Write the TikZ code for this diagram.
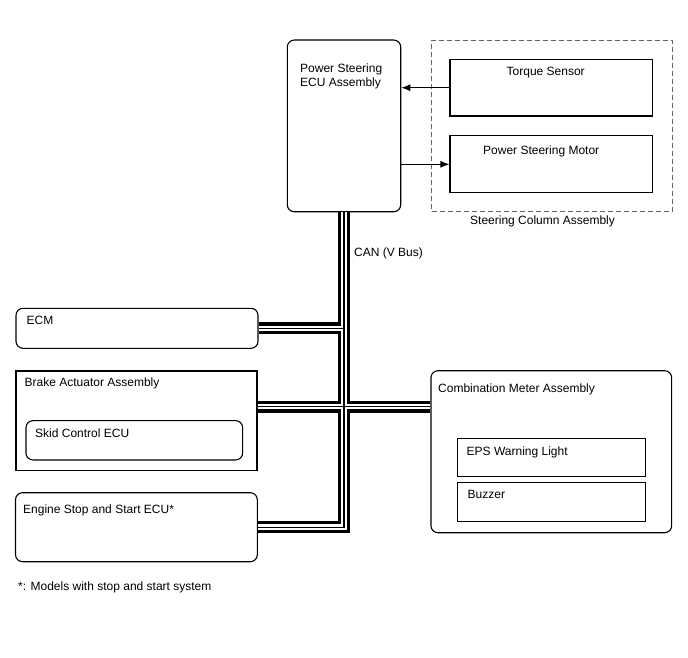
\documentclass[tikz,border=0pt]{standalone}
\usepackage{fontspec}
\setmainfont{Liberation Sans}
\usetikzlibrary{arrows.meta}
\tikzset{
  unit/.style={draw, line width=1.1pt, rounded corners=7pt, inner sep=0pt},
  part/.style={draw, line width=1.1pt, inner sep=0pt},
  group/.style={draw=black!60, line width=0.9pt, dash pattern=on 5pt off 3pt, inner sep=0pt},
  lbl/.style={anchor=base west, inner sep=0pt, font=\fontsize{12}{14.3}\selectfont},
  sig/.style={line width=1pt, -{Latex[length=9pt, width=7pt]}}
}
\begin{document}
\begin{tikzpicture}[x=1pt, y=-1pt]
    \useasboundingbox (0,0) rectangle (688,658);
    % steering side
    \node[unit, minimum width=113.4pt, minimum height=171.7pt] (ecu) at (344,125.9) {};
    \node[group, minimum width=240.3pt, minimum height=171.7pt] (column) at (551.8,125.9) {};
    \node[part, minimum width=202.7pt, minimum height=56.7pt] (torque) at (551.3,87.7) {};
    \node[part, minimum width=202.7pt, minimum height=56.7pt] (motor) at (551.3,164.3) {};
    % bus members
    \node[unit, minimum width=242pt, minimum height=40pt] (ecm) at (137,328.3) {};
    \node[part, minimum width=241pt, minimum height=99.7pt] (brake) at (136.5,420.8) {};
    \node[unit, minimum width=216.7pt, minimum height=39.3pt] (skid) at (134.3,440.3) {};
    \node[unit, minimum width=241.8pt, minimum height=69pt] (engine) at (136.4,527.2) {};
    \node[unit, minimum width=240.7pt, minimum height=162pt] (meter) at (551.3,451.7) {};
    \node[part, minimum width=188.4pt, minimum height=38.4pt] (eps) at (551.5,457.5) {};
    \node[part, minimum width=188.4pt, minimum height=39pt] (buzzer) at (551.5,502.2) {};
    % labels
    \node[lbl, anchor=north west, align=left] (ecutxt) at (300,63.3) {Power Steering\\ECU Assembly};
    \node[lbl] (torquetxt) at (506.5,76) {Torque Sensor};
    \node[lbl] (motortxt) at (483,154) {Power Steering Motor};
    \node[lbl] (columntxt) at (470,224) {Steering Column Assembly};
    \node[lbl] (cantxt) at (354,256) {CAN (V Bus)};
    \node[lbl] (ecmtxt) at (26.5,324) {ECM};
    \node[lbl] (braketxt) at (24.5,386.7) {Brake Actuator Assembly};
    \node[lbl] (skidtxt) at (35,437) {Skid Control ECU};
    \node[lbl] (metertxt) at (438,392) {Combination Meter Assembly};
    \node[lbl] (epstxt) at (466.5,455) {EPS Warning Light};
    \node[lbl] (buzzertxt) at (467.5,498) {Buzzer};
    \node[lbl] (enginetxt) at (23,513.5) {Engine Stop and Start ECU*};
    \node[lbl] (notetxt) at (18,590) {*: Models with stop and start system};
    % signals
    \draw[sig] (torque.west) -- (torque.west -| ecu.east);
    \draw[sig] (ecu.east |- motor.west) -- (motor.west);
    % CAN bus, drawn in three layers
    \coordinate (jb) at (344,406.5);
    \foreach \w/\c in {12/black, 5.5/white, 1.2/black}
      \draw[line width=\w pt, \c] (ecu.south) -- (ecu.south |- engine.east) -- (engine.east)
        (ecm.east) -- (ecm.east -| ecu.south)
        (brake.east |- jb) -- (meter.west |- jb);
\end{tikzpicture}
\end{document}
